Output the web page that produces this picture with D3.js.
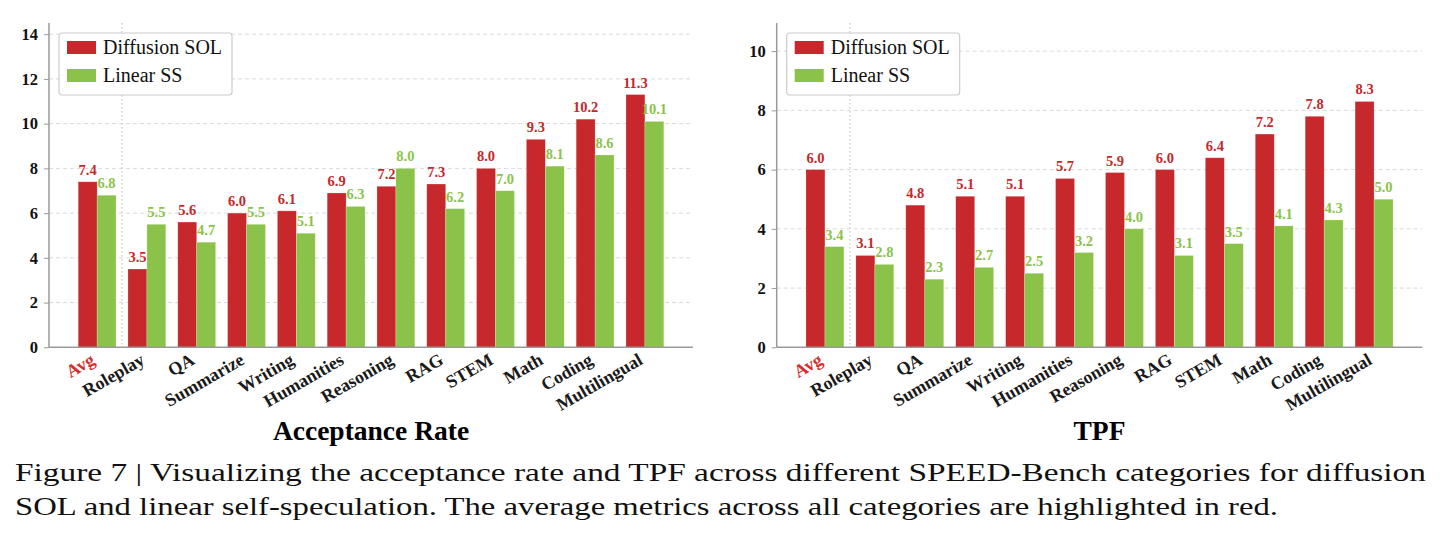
<!DOCTYPE html>
<html>
<head>
<meta charset="utf-8">
<script src="https://cdn.jsdelivr.net/npm/d3@7"></script>
<style>
  body { margin: 0; background: #fff; }
  svg { display: block; }
</style>
</head>
<body>
<div id="chart"></div>
<script>
// data
const categories = ["Avg", "Roleplay", "QA", "Summarize", "Writing", "Humanities",
    "Reasoning", "RAG", "STEM", "Math", "Coding", "Multilingual"];
const seriesNames = ["Diffusion SOL", "Linear SS"];

const accDiffusion = [7.4, 3.5, 5.6, 6.0, 6.1, 6.9, 7.2, 7.3, 8.0, 9.3, 10.2, 11.3];
const accLinear    = [6.8, 5.5, 4.7, 5.5, 5.1, 6.3, 8.0, 6.2, 7.0, 8.1, 8.6, 10.1];
const accTicks     = [0, 2, 4, 6, 8, 10, 12, 14];

const tpfDiffusion = [6.0, 3.1, 4.8, 5.1, 5.1, 5.7, 5.9, 6.0, 6.4, 7.2, 7.8, 8.3];
const tpfLinear    = [3.4, 2.8, 2.3, 2.7, 2.5, 3.2, 4.0, 3.1, 3.5, 4.1, 4.3, 5.0];
const tpfTicks     = [0, 2, 4, 6, 8, 10];

const captionLines = [
    "Figure 7 | Visualizing the acceptance rate and TPF across different SPEED-Bench categories for diffusion",
    "SOL and linear self-speculation. The average metrics across all categories are highlighted in red."
];

const RED = "#c6282b";
const GREEN = "#8bc34a";
const SERIF = "'Liberation Serif', 'Times New Roman', serif";

const svg = d3.select("#chart").append("svg")
    .attr("width", 1443)
    .attr("height", 538);

function drawPanel(opts) {
    let left = opts.left, right = opts.right;
    let top = 23, bottom = 347.3;

    let x = d3.scaleBand()
        .domain(categories)
        .range([left, right])
        .paddingInner(0)
        .paddingOuter(0.466);

    let y = d3.scaleLinear()
        .domain([0, opts.yMax])
        .range([bottom, top]);

    let g = svg.append("g");

    // grid lines
    g.append("g")
        .selectAll("line")
        .data(opts.ticks.filter(t => t > 0))
        .join("line")
        .attr("x1", left)
        .attr("x2", right)
        .attr("y1", d => y(d))
        .attr("y2", d => y(d))
        .attr("stroke", "#d9d9d9")
        .attr("stroke-width", 1)
        .attr("stroke-dasharray", "4,3");

    // dotted separator after Avg
    g.append("line")
        .attr("x1", x(categories[1]))
        .attr("x2", x(categories[1]))
        .attr("y1", top)
        .attr("y2", bottom)
        .attr("stroke", "#bdbdbd")
        .attr("stroke-width", 1)
        .attr("stroke-dasharray", "1.5,2.5");

    let bw = x.bandwidth() * 0.38;
    let rows = categories.map((c, i) => ({cat: c, a: opts.diffusion[i], b: opts.linear[i]}));

    // bars
    let groups = g.append("g")
        .selectAll("g")
        .data(rows)
        .join("g")
        .attr("transform", d => `translate(${x(d.cat) + x.bandwidth() / 2},0)`);

    groups.append("rect")
        .attr("x", -bw)
        .attr("y", d => y(d.a))
        .attr("width", bw)
        .attr("height", d => y(0) - y(d.a))
        .attr("fill", RED)
        .attr("stroke", "#fff")
        .attr("stroke-opacity", 0.35)
        .attr("stroke-width", 0.6);

    groups.append("rect")
        .attr("x", 0)
        .attr("y", d => y(d.b))
        .attr("width", bw)
        .attr("height", d => y(0) - y(d.b))
        .attr("fill", GREEN)
        .attr("stroke", "#fff")
        .attr("stroke-opacity", 0.35)
        .attr("stroke-width", 0.6);

    // value labels
    groups.append("text")
        .attr("x", -bw / 2)
        .attr("y", d => y(d.a) - 7)
        .attr("text-anchor", "middle")
        .attr("font-family", SERIF)
        .attr("font-weight", "bold")
        .attr("font-size", "14.5px")
        .attr("fill", RED)
        .text(d => d.a.toFixed(1));

    groups.append("text")
        .attr("x", bw / 2)
        .attr("y", d => y(d.b) - 7)
        .attr("text-anchor", "middle")
        .attr("font-family", SERIF)
        .attr("font-weight", "bold")
        .attr("font-size", "14.5px")
        .attr("fill", GREEN)
        .text(d => d.b.toFixed(1));

    // y axis
    let yAxis = g.append("g")
        .attr("transform", `translate(${left},0)`)
        .call(d3.axisLeft(y).tickValues(opts.ticks).tickSize(5).tickPadding(6).tickFormat(d3.format("d")));
    yAxis.select(".domain").remove();
    yAxis.selectAll(".tick line").attr("stroke", "#999");
    yAxis.selectAll("text")
        .attr("font-family", SERIF)
        .attr("font-weight", "bold")
        .attr("font-size", "16.5px")
        .attr("fill", "#111");

    // x axis
    let xAxis = g.append("g")
        .attr("transform", `translate(0,${bottom})`)
        .call(d3.axisBottom(x).tickSize(0).tickPadding(0));
    xAxis.select(".domain").remove();
    xAxis.selectAll("text")
        .attr("x", 0)
        .attr("y", 0)
        .attr("dy", 0)
        .attr("text-anchor", "end")
        .attr("transform", "translate(-1,16) rotate(-30)")
        .attr("font-family", SERIF)
        .attr("font-weight", "bold")
        .attr("font-size", "18px")
        .attr("fill", d => d === "Avg" ? "#d32f2f" : "#1a1a1a");

    // spines
    g.append("line")
        .attr("x1", left).attr("x2", left)
        .attr("y1", top).attr("y2", bottom)
        .attr("stroke", "#999").attr("stroke-width", 1.5);
    g.append("line")
        .attr("x1", left).attr("x2", right)
        .attr("y1", bottom).attr("y2", bottom)
        .attr("stroke", "#999").attr("stroke-width", 1.5);

    // legend
    let lg = g.append("g").attr("transform", `translate(${left + 10},33)`);
    lg.append("rect")
        .attr("width", 173)
        .attr("height", 62)
        .attr("rx", 3)
        .attr("fill", "#fff")
        .attr("fill-opacity", 0.9)
        .attr("stroke", "#cccccc")
        .attr("stroke-width", 1.2);
    seriesNames.forEach((name, i) => {
        lg.append("rect")
            .attr("x", 8)
            .attr("y", 8 + i * 28)
            .attr("width", 29)
            .attr("height", 13)
            .attr("fill", i === 0 ? RED : GREEN);
        lg.append("text")
            .attr("x", 44)
            .attr("y", 21 + i * 28)
            .attr("font-family", SERIF)
            .attr("font-size", "20px")
            .attr("fill", "#111")
            .text(name);
    });

    // panel title
    g.append("text")
        .attr("x", (left + right) / 2)
        .attr("y", 440)
        .attr("text-anchor", "middle")
        .attr("font-family", SERIF)
        .attr("font-weight", "bold")
        .attr("font-size", "27.5px")
        .attr("fill", "#000")
        .text(opts.title);
}

drawPanel({left: 49, right: 693, yMax: 14.5, ticks: accTicks,
    diffusion: accDiffusion, linear: accLinear, title: "Acceptance Rate"});
drawPanel({left: 776.7, right: 1422.3, yMax: 10.95, ticks: tpfTicks,
    diffusion: tpfDiffusion, linear: tpfLinear, title: "TPF"});

// caption
svg.append("g")
    .selectAll("text")
    .data(captionLines)
    .join("text")
    .attr("x", 15)
    .attr("y", (d, i) => 481 + i * 34)
    .attr("font-family", SERIF)
    .attr("font-size", "26px")
    .attr("fill", "#111")
    .attr("textLength", (d, i) => i === 0 ? 1411 : 1263)
    .attr("lengthAdjust", "spacingAndGlyphs")
    .text(d => d);
</script>
</body>
</html>
